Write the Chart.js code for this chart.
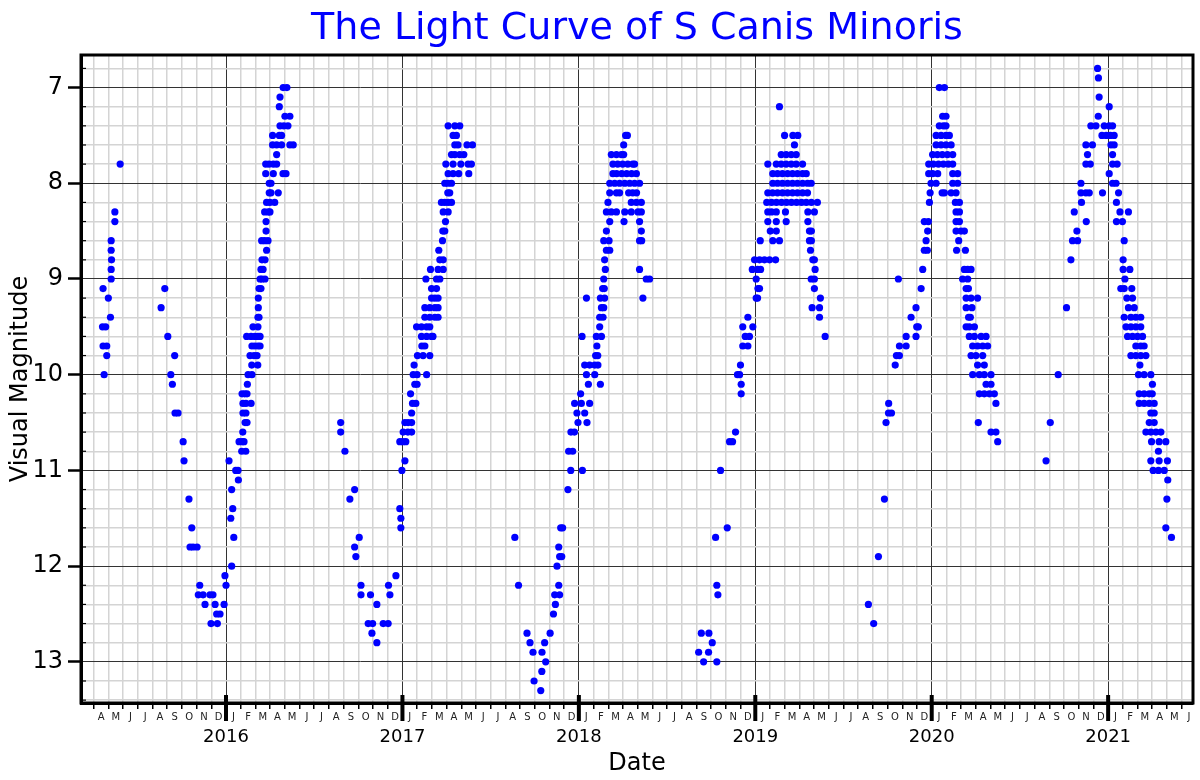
<!DOCTYPE html>
<html>
<head>
<meta charset="utf-8">
<title>The Light Curve of S Canis Minoris</title>
<script src="https://cdn.jsdelivr.net/npm/chart.js@4.4.1/dist/chart.umd.min.js"></script>
<style>
  html, body { margin: 0; padding: 0; background: #fff; }
  #chart { display: block; }
</style>
</head>
<body>
<canvas id="chart" width="1200" height="780"></canvas>
<script>
// Each row: visual magnitude, then the dates (decimal years) of the estimates at that magnitude
const cycle2015 = [
  [7.8, 2015.400], [8.3, 2015.370], [8.4, 2015.370],
  [8.6, 2015.349], [8.7, 2015.349], [8.8, 2015.351], [8.9, 2015.349], [9.0, 2015.349],
  [9.1, 2015.303, 2015.653], [9.2, 2015.333], [9.3, 2015.632], [9.4, 2015.345], [9.5, 2015.300, 2015.318],
  [9.6, 2015.670], [9.7, 2015.303, 2015.324], [9.8, 2015.324, 2015.709], [10.0, 2015.309, 2015.687], [10.1, 2015.696],
  [10.4, 2015.711, 2015.728], [10.7, 2015.757], [10.9, 2015.762], [11.3, 2015.790], [11.6, 2015.806],
  [11.8, 2015.796, 2015.813, 2015.836], [12.1, 2015.994], [12.2, 2015.851, 2016.000],
  [12.3, 2015.843, 2015.870, 2015.909, 2015.926], [12.4, 2015.881, 2015.938, 2015.989],
  [12.5, 2015.947, 2015.966], [12.6, 2015.915, 2015.951]
];

const cycle2016 = [
  [7.0, 2016.324, 2016.345], [7.1, 2016.306], [7.2, 2016.302], [7.3, 2016.334, 2016.362],
  [7.4, 2016.306, 2016.328, 2016.351], [7.5, 2016.264, 2016.302, 2016.315],
  [7.6, 2016.264, 2016.287, 2016.315, 2016.362, 2016.381], [7.7, 2016.287],
  [7.8, 2016.225, 2016.244, 2016.268, 2016.287], [7.9, 2016.225, 2016.268, 2016.323, 2016.340],
  [8.0, 2016.245, 2016.255], [8.1, 2016.245, 2016.255, 2016.296], [8.2, 2016.230, 2016.249, 2016.276],
  [8.3, 2016.219, 2016.240, 2016.249], [8.4, 2016.227], [8.5, 2016.227], [8.6, 2016.202, 2016.219, 2016.238],
  [8.7, 2016.230], [8.8, 2016.204, 2016.221], [8.9, 2016.198, 2016.210], [9.0, 2016.193, 2016.204, 2016.221],
  [9.1, 2016.187, 2016.198], [9.2, 2016.183], [9.3, 2016.183], [9.4, 2016.181, 2016.187], [9.5, 2016.153, 2016.181],
  [9.6, 2016.117, 2016.142, 2016.164, 2016.181, 2016.193], [9.7, 2016.147, 2016.164, 2016.181, 2016.193],
  [9.8, 2016.136, 2016.159, 2016.176], [9.9, 2016.146, 2016.180], [10.0, 2016.125, 2016.147], [10.1, 2016.121],
  [10.2, 2016.091, 2016.106, 2016.119], [10.3, 2016.096, 2016.113, 2016.142], [10.4, 2016.096, 2016.113],
  [10.5, 2016.108, 2016.119, 2016.650], [10.6, 2016.095, 2016.650], [10.7, 2016.074, 2016.091, 2016.102],
  [10.8, 2016.089, 2016.112, 2016.674], [10.9, 2016.017], [11.0, 2016.055, 2016.068], [11.1, 2016.070],
  [11.2, 2016.032, 2016.729], [11.3, 2016.702], [11.4, 2016.038], [11.5, 2016.027], [11.7, 2016.044, 2016.755],
  [11.8, 2016.729], [11.9, 2016.736], [12.0, 2016.032], [12.1, 2016.963], [12.2, 2016.765, 2016.921],
  [12.3, 2016.765, 2016.819, 2016.929], [12.4, 2016.855], [12.6, 2016.806, 2016.831, 2016.891, 2016.919],
  [12.7, 2016.827], [12.8, 2016.855]
];

const cycle2017 = [
  [7.4, 2017.259, 2017.297, 2017.325], [7.5, 2017.287, 2017.306], [7.6, 2017.297, 2017.315, 2017.366, 2017.397],
  [7.7, 2017.278, 2017.297, 2017.325, 2017.348], [7.8, 2017.246, 2017.287, 2017.331, 2017.372, 2017.391],
  [7.9, 2017.259, 2017.287, 2017.319, 2017.376], [8.0, 2017.240, 2017.257, 2017.278], [8.1, 2017.257, 2017.268],
  [8.2, 2017.221, 2017.240, 2017.259, 2017.278], [8.3, 2017.231, 2017.259], [8.4, 2017.244], [8.5, 2017.229, 2017.240],
  [8.6, 2017.227], [8.7, 2017.206], [8.8, 2017.212, 2017.231], [8.9, 2017.159, 2017.202, 2017.231],
  [9.0, 2017.133, 2017.193, 2017.212], [9.1, 2017.165, 2017.193], [9.2, 2017.165, 2017.184, 2017.202],
  [9.3, 2017.127, 2017.155, 2017.184, 2017.202], [9.4, 2017.127, 2017.155, 2017.184, 2017.202],
  [9.5, 2017.080, 2017.108, 2017.137, 2017.155], [9.6, 2017.108, 2017.137, 2017.165, 2017.173],
  [9.7, 2017.110, 2017.127], [9.8, 2017.085, 2017.117, 2017.155], [9.9, 2017.066],
  [10.0, 2017.061, 2017.083, 2017.137], [10.1, 2017.070, 2017.083], [10.2, 2017.046], [10.3, 2017.057, 2017.076],
  [10.4, 2017.052], [10.5, 2017.014, 2017.032, 2017.052], [10.6, 2017.004, 2017.031, 2017.052],
  [10.7, 2016.985, 2017.002, 2017.019], [10.9, 2017.014], [11.0, 2016.997], [11.4, 2016.985],
  [11.5, 2016.991], [11.6, 2016.991, 2017.897, 2017.908], [11.7, 2017.637], [11.8, 2017.886],
  [11.9, 2017.891, 2017.903], [12.0, 2017.876], [12.2, 2017.658, 2017.886], [12.3, 2017.863, 2017.891],
  [12.4, 2017.867], [12.5, 2017.856], [12.7, 2017.706, 2017.837], [12.8, 2017.723, 2017.806],
  [12.9, 2017.740, 2017.791], [13.0, 2017.812], [13.1, 2017.790], [13.2, 2017.746], [13.3, 2017.784]
];

const cycle2018 = [
  [7.5, 2018.265, 2018.275], [7.6, 2018.254], [7.7, 2018.184, 2018.213, 2018.241, 2018.254],
  [7.8, 2018.193, 2018.220, 2018.248, 2018.277, 2018.305, 2018.316],
  [7.9, 2018.193, 2018.214, 2018.243, 2018.271, 2018.299, 2018.326],
  [8.0, 2018.175, 2018.203, 2018.231, 2018.260, 2018.288, 2018.316, 2018.344],
  [8.1, 2018.175, 2018.213, 2018.231, 2018.282, 2018.305, 2018.327],
  [8.2, 2018.165, 2018.297, 2018.326, 2018.354],
  [8.3, 2018.156, 2018.184, 2018.213, 2018.260, 2018.297, 2018.335, 2018.354],
  [8.4, 2018.175, 2018.256, 2018.344], [8.5, 2018.156, 2018.354], [8.6, 2018.141, 2018.171, 2018.344, 2018.356],
  [8.7, 2018.156, 2018.175], [8.8, 2018.146], [8.9, 2018.150, 2018.344], [9.0, 2018.141, 2018.382, 2018.401],
  [9.1, 2018.135, 2018.144], [9.2, 2018.043, 2018.122, 2018.146, 2018.363], [9.3, 2018.128, 2018.141],
  [9.4, 2018.118, 2018.137], [9.5, 2018.118], [9.6, 2018.018, 2018.099, 2018.128], [9.7, 2018.102],
  [9.8, 2018.095, 2018.107], [9.9, 2018.033, 2018.061, 2018.090, 2018.108], [10.0, 2018.043, 2018.090],
  [10.1, 2018.054, 2018.122], [10.2, 2018.010, 2018.920], [10.3, 2017.976, 2018.014, 2018.061],
  [10.4, 2017.989, 2018.033], [10.5, 2017.995, 2018.046], [10.6, 2017.955, 2017.975, 2018.888],
  [10.7, 2018.854, 2018.871], [10.8, 2017.942, 2017.965], [11.0, 2017.954, 2018.020, 2018.803],
  [11.2, 2017.938], [11.6, 2018.841], [11.7, 2018.775], [12.2, 2018.782], [12.3, 2018.788],
  [12.7, 2018.694, 2018.737], [12.8, 2018.756], [12.9, 2018.679, 2018.735], [13.0, 2018.707, 2018.782]
];

const cycle2019 = [
  [7.2, 2019.137], [7.5, 2019.166, 2019.213, 2019.241], [7.6, 2019.222],
  [7.7, 2019.147, 2019.175, 2019.204, 2019.232],
  [7.8, 2019.071, 2019.119, 2019.147, 2019.175, 2019.204, 2019.232, 2019.268],
  [7.9, 2019.099, 2019.126, 2019.154, 2019.183, 2019.211, 2019.239, 2019.268, 2019.289],
  [8.0, 2019.099, 2019.126, 2019.154, 2019.183, 2019.211, 2019.239, 2019.268, 2019.296, 2019.317],
  [8.1, 2019.071, 2019.098, 2019.126, 2019.154, 2019.183, 2019.211, 2019.239, 2019.268, 2019.296],
  [8.2, 2019.065, 2019.092, 2019.120, 2019.149, 2019.177, 2019.205, 2019.234, 2019.262, 2019.289, 2019.318, 2019.352],
  [8.3, 2019.071, 2019.092, 2019.119, 2019.171, 2019.298, 2019.335], [8.4, 2019.071, 2019.119, 2019.175, 2019.298],
  [8.5, 2019.085, 2019.119, 2019.307, 2019.318], [8.6, 2019.028, 2019.099, 2019.137, 2019.307, 2019.318],
  [8.7, 2019.313], [8.8, 2018.996, 2019.024, 2019.052, 2019.081, 2019.115, 2019.326, 2019.335],
  [8.9, 2018.983, 2019.013, 2019.030, 2019.339], [9.0, 2019.005, 2019.317, 2019.335],
  [9.1, 2019.015, 2019.024, 2019.335], [9.2, 2019.005, 2019.013, 2019.369], [9.3, 2019.322, 2019.364],
  [9.4, 2018.958, 2019.364], [9.5, 2018.929, 2018.986], [9.6, 2018.943, 2018.967, 2019.396],
  [9.7, 2018.929, 2018.958], [9.9, 2018.916], [10.0, 2018.899, 2018.911], [10.1, 2018.920],
  [10.3, 2019.756], [10.4, 2019.755, 2019.772], [10.5, 2019.741], [11.3, 2019.732], [11.9, 2019.698],
  [12.4, 2019.641], [12.6, 2019.671]
];

const cycle2020 = [
  [7.0, 2020.043, 2020.072], [7.3, 2020.062, 2020.081], [7.4, 2020.043, 2020.066, 2020.081],
  [7.5, 2020.025, 2020.053, 2020.081, 2020.100], [7.6, 2020.025, 2020.053, 2020.081, 2020.110],
  [7.7, 2020.005, 2020.032, 2020.060, 2020.089, 2020.119],
  [7.8, 2019.983, 2020.009, 2020.038, 2020.066, 2020.094, 2020.119],
  [7.9, 2019.983, 2020.005, 2020.034, 2020.119, 2020.147], [8.0, 2019.996, 2020.025, 2020.119, 2020.147],
  [8.1, 2019.991, 2020.059, 2020.072, 2020.110, 2020.138], [8.2, 2019.987, 2020.134, 2020.157],
  [8.3, 2020.138, 2020.157], [8.4, 2019.958, 2019.981, 2020.138, 2020.157], [8.5, 2019.977, 2020.138, 2020.166, 2020.185],
  [8.6, 2019.968, 2020.153], [8.7, 2019.958, 2019.975, 2020.141, 2020.191], [8.9, 2019.949, 2020.185, 2020.204, 2020.223],
  [9.0, 2019.811, 2020.175, 2020.204], [9.1, 2019.940, 2020.195, 2020.208], [9.2, 2020.195, 2020.223, 2020.260],
  [9.3, 2019.911, 2020.195, 2020.228], [9.4, 2019.883, 2020.209, 2020.219], [9.5, 2019.915, 2019.924, 2020.195, 2020.213, 2020.242],
  [9.6, 2019.855, 2019.911, 2020.213, 2020.242, 2020.280, 2020.308], [9.7, 2019.817, 2019.855, 2020.232, 2020.260, 2020.289, 2020.317],
  [9.8, 2019.800, 2019.817, 2020.223, 2020.251, 2020.289], [9.9, 2019.793, 2020.260, 2020.298],
  [10.0, 2020.232, 2020.270, 2020.298, 2020.336], [10.1, 2020.308, 2020.336], [10.2, 2020.270, 2020.298, 2020.327, 2020.355],
  [10.3, 2020.364], [10.5, 2020.264], [10.6, 2020.336, 2020.364], [10.7, 2020.374]
];

const cycle2021 = [
  [6.8, 2020.940], [6.9, 2020.945], [7.1, 2020.949], [7.2, 2021.006], [7.3, 2020.944],
  [7.4, 2020.902, 2020.931, 2020.978, 2021.006, 2021.025], [7.5, 2020.965, 2020.989, 2021.012, 2021.034],
  [7.6, 2020.874, 2020.911, 2021.016, 2021.034], [7.7, 2020.883, 2021.025], [7.8, 2020.874, 2020.899, 2021.025, 2021.051],
  [7.9, 2021.006], [8.0, 2020.846, 2021.025, 2021.045], [8.1, 2020.846, 2020.874, 2020.893, 2020.968, 2021.059],
  [8.2, 2020.849, 2021.047], [8.3, 2020.808, 2021.067, 2021.115], [8.4, 2020.876, 2021.047, 2021.081],
  [8.5, 2020.823], [8.6, 2020.798, 2020.827, 2021.091], [8.8, 2020.789, 2021.085], [8.9, 2021.085, 2021.123],
  [9.0, 2021.095], [9.1, 2021.072, 2021.091, 2021.134], [9.2, 2021.106, 2021.138], [9.3, 2020.764, 2021.115, 2021.148],
  [9.4, 2021.091, 2021.129, 2021.157, 2021.185], [9.5, 2021.101, 2021.129, 2021.157, 2021.185],
  [9.6, 2021.110, 2021.138, 2021.166, 2021.195], [9.7, 2021.157, 2021.185, 2021.204],
  [9.8, 2021.129, 2021.157, 2021.185, 2021.214], [9.9, 2021.180], [10.0, 2020.717, 2021.172, 2021.204, 2021.242],
  [10.1, 2021.251], [10.2, 2021.176, 2021.204, 2021.233, 2021.250], [10.3, 2021.176, 2021.204, 2021.233, 2021.261],
  [10.4, 2021.242, 2021.261], [10.5, 2020.672, 2021.233, 2021.261], [10.6, 2021.214, 2021.242, 2021.271, 2021.299],
  [10.7, 2021.246, 2021.289, 2021.327], [10.8, 2021.285], [10.9, 2020.648, 2021.242, 2021.289, 2021.336],
  [11.0, 2021.255, 2021.285, 2021.318], [11.1, 2021.338], [11.3, 2021.333], [11.6, 2021.327], [11.7, 2021.359]
];

const monthLetters = ['J', 'F', 'M', 'A', 'M', 'J', 'J', 'A', 'S', 'O', 'N', 'D'];
const yearLabels = [2016, 2017, 2018, 2019, 2020, 2021];
const magLabels = [7, 8, 9, 10, 11, 12, 13];

// axis range (decimal years / magnitudes)
const xMin = 2015.178, xMax = 2021.481;
const yMin = 6.66, yMax = 13.43;
const firstMonth = 2015 * 12 + 3;   // Apr 2015
const lastMonth = 2021 * 12 + 5;    // Jun 2021

const points = [];
[cycle2015, cycle2016, cycle2017, cycle2018, cycle2019, cycle2020, cycle2021].forEach(function (cycle) {
  cycle.forEach(function (row) {
    for (let i = 1; i < row.length; i++) points.push({ x: row[i], y: row[0] });
  });
});

const monthStarts = [];
const monthMiddles = [];
for (let k = firstMonth; k <= lastMonth; k++) {
  monthStarts.push({ value: k / 12 });
  monthMiddles.push({ value: (k + 0.5) / 12 });
}
const magTicks = [];
for (let v = 68; v <= 134; v += 2) magTicks.push({ value: v / 10 });

const isWhole = v => Math.abs(v - Math.round(v)) < 1e-6;

Chart.defaults.font.family = "'DejaVu Sans', sans-serif";
Chart.defaults.color = '#000';

// title centred over the plot area, thick frame and the longer year ticks
const framePlugin = {
  id: 'frame',
  afterDraw(chart) {
    const { ctx, chartArea: a, scales } = chart;
    ctx.save();
    ctx.strokeStyle = '#000';
    ctx.lineWidth = 1.2;
    magTicks.forEach(t => {
      if (isWhole(t.value)) return;
      const y = scales.y.getPixelForValue(t.value);
      ctx.beginPath(); ctx.moveTo(a.left, y); ctx.lineTo(a.left + 5, y); ctx.stroke();
    });
    ctx.lineWidth = 4;
    yearLabels.forEach(yr => {
      const x = scales.x.getPixelForValue(yr);
      ctx.beginPath(); ctx.moveTo(x, a.bottom - 8); ctx.lineTo(x, a.bottom + 18); ctx.stroke();
    });
    ctx.lineWidth = 3;
    ctx.strokeRect(a.left, a.top, a.right - a.left, a.bottom - a.top);

    ctx.fillStyle = '#0000ff';
    ctx.font = "38px 'DejaVu Sans', sans-serif";
    ctx.textAlign = 'center';
    ctx.textBaseline = 'middle';
    ctx.fillText('The Light Curve of S Canis Minoris', (a.left + a.right) / 2, 29);
    ctx.restore();
  }
};

new Chart(document.getElementById('chart'), {
  type: 'scatter',
  data: {
    datasets: [{
      label: 'S CMi',
      data: points,
      backgroundColor: '#0000ff',
      borderWidth: 0,
      pointRadius: 3.6,
      pointHoverRadius: 3.6
    }]
  },
  options: {
    responsive: false,
    animation: false,
    layout: { padding: { top: 55, right: 7, left: 0, bottom: 0 } },
    plugins: {
      legend: { display: false },
      tooltip: { enabled: false },
      title: { display: false }
    },
    scales: {
      x: {
        type: 'linear', position: 'bottom', weight: 0,
        min: xMin, max: xMax,
        afterBuildTicks: s => { s.ticks = monthStarts.map(t => ({ value: t.value })); },
        afterFit: s => { s.height = 7; },
        ticks: { display: false },
        border: { display: true, color: '#000', width: 3 },
        grid: {
          color: c => isWhole(c.tick.value * 1) ? '#333' : '#d4d4d4',
          lineWidth: c => isWhole(c.tick.value) ? 1 : 1.5,
          drawTicks: true,
          tickLength: 6,
          tickColor: '#000',
          tickWidth: 1.5
        }
      },
      months: {
        type: 'linear', position: 'bottom', weight: 1,
        min: xMin, max: xMax,
        afterBuildTicks: s => { s.ticks = monthMiddles.map(t => ({ value: t.value })); },
        afterFit: s => { s.height = 17; },
        grid: { display: false, drawTicks: false },
        border: { display: false },
        ticks: {
          autoSkip: false, maxRotation: 0, minRotation: 0, padding: 1,
          font: { size: 10 }, color: '#222',
          callback: v => monthLetters[((Math.round(v * 12 - 0.5) % 12) + 12) % 12]
        }
      },
      years: {
        type: 'linear', position: 'bottom', weight: 2,
        min: xMin, max: xMax,
        afterBuildTicks: s => { s.ticks = yearLabels.map(y => ({ value: y })); },
        afterFit: s => { s.height = 53; },
        grid: { display: false, drawTicks: false },
        border: { display: false },
        ticks: {
          autoSkip: false, maxRotation: 0, minRotation: 0, padding: 0,
          font: { size: 18 }, color: '#000',
          callback: v => String(v)
        },
        title: { display: true, text: 'Date', font: { size: 24 }, color: '#000', padding: { top: 0, bottom: 2 } }
      },
      y: {
        type: 'linear', position: 'left', reverse: true,
        min: yMin, max: yMax,
        afterBuildTicks: s => { s.ticks = magTicks.map(t => ({ value: t.value })); },
        afterFit: s => { s.width = 81; },
        border: { display: true, color: '#000', width: 3 },
        grid: {
          color: c => isWhole(c.tick.value) ? '#333' : '#d4d4d4',
          lineWidth: c => isWhole(c.tick.value) ? 1 : 1.5,
          drawTicks: true,
          tickLength: 13,
          tickColor: c => isWhole(c.tick.value) ? '#000' : 'rgba(0,0,0,0)',
          tickWidth: 2.5
        },
        ticks: {
          autoSkip: false, padding: 5,
          font: { size: 24 }, color: '#000',
          callback: v => magLabels.indexOf(Math.round(v)) >= 0 && isWhole(v) ? String(Math.round(v)) : ''
        },
        title: { display: true, text: 'Visual Magnitude', font: { size: 24 }, color: '#000', padding: { top: 6, bottom: 0 } }
      }
    }
  },
  plugins: [framePlugin]
});
</script>
</body>
</html>
